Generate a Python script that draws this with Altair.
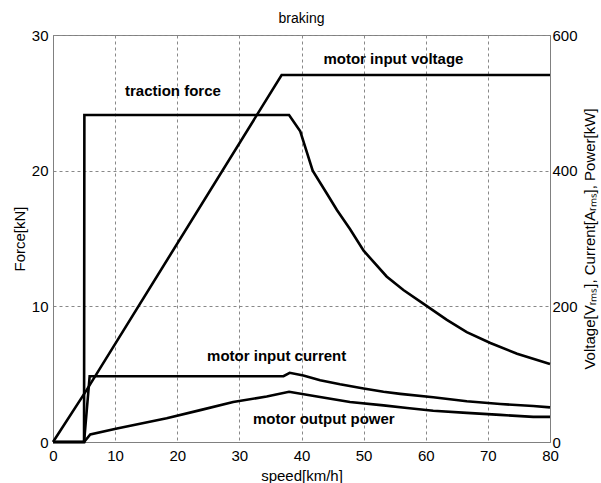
import altair as alt
import pandas as pd

# Braking characteristics of the traction drive versus speed
speed_force = [0, 5.0, 5.05, 38.0, 39.8, 41.8, 44.1, 45.7, 47.8, 50.0, 53.7, 56.4,
               59.6, 63.4, 66.6, 70.4, 74.7, 80.0]
force_kn = [0, 0, 24.1, 24.1, 22.9, 20.0, 18.3, 17.1, 15.7, 14.1, 12.2, 11.2,
            10.2, 9.0, 8.1, 7.3, 6.5, 5.75]

speed_voltage = [0, 5.3, 36.8, 80.0]
voltage_v = [0, 75, 541, 541]

speed_current = [0, 5.0, 5.9, 37.1, 38.1, 40.3, 43.0, 46.2, 50.0, 53.2, 55.9,
                 61.2, 66.6, 72.0, 77.3, 80.0]
current_a = [0, 0, 97, 97, 102, 98, 91, 85, 79, 74, 71, 66, 60, 56, 53, 51]

speed_power = [0, 5.0, 6.0, 10.3, 18.3, 23.7, 29.0, 34.4, 38.0, 42.5, 47.8, 53.2,
               57.0, 61.2, 66.6, 72.0, 77.3, 80.0]
power_kw = [0, 0, 11, 20, 35, 47, 59, 67, 74, 67, 59, 54, 50, 46, 43, 40, 37, 37]

# Curve annotations, placed in (speed, force) coordinates
label_text = ["traction force", "motor input voltage", "motor input current",
              "motor output power"]
label_speed = [19.3, 54.8, 36.0, 43.6]
label_force = [25.9, 28.2, 6.34, 1.7]

title_text = ["braking"]

FONT = "Liberation Sans"
GRID = "#888888"
W, H = 497, 407

force_df = pd.DataFrame({"speed": speed_force, "value": force_kn})
right_df = pd.concat([
    pd.DataFrame({"speed": speed_voltage, "value": voltage_v, "series": "voltage"}),
    pd.DataFrame({"speed": speed_current, "value": current_a, "series": "current"}),
    pd.DataFrame({"speed": speed_power, "value": power_kw, "series": "power"}),
], ignore_index=True)
label_df = pd.DataFrame({"speed": label_speed, "value": label_force, "text": label_text})

x_enc = alt.X(
    "speed:Q",
    scale=alt.Scale(domain=[0, 80], nice=False, zero=False),
    axis=alt.Axis(
        values=list(range(0, 81, 10)), title="speed[km/h]", grid=True,
        gridDash=[3, 3], gridColor=GRID, gridWidth=1, ticks=False,
        labelPadding=6, labelFlush=False, labelOverlap=False, titlePadding=5,
    ),
)
left_y = alt.Y(
    "value:Q",
    scale=alt.Scale(domain=[0, 30], nice=False, zero=False),
    axis=alt.Axis(
        values=[0, 10, 20, 30], title="Force[kN]", orient="left", grid=True,
        gridDash=[3, 3], gridColor=GRID, gridWidth=1, ticks=False,
        labelPadding=5, titlePadding=4,
    ),
)

force_line = alt.Chart(force_df).mark_line(color="black", strokeWidth=2.6).encode(
    x=x_enc, y=left_y
)

labels = alt.Chart(label_df).mark_text(
    font=FONT, fontSize=15, fontWeight="bold", color="black"
).encode(x=x_enc, y=left_y, text="text:N")

# Plot title, centred above the frame
heading = alt.Chart(pd.DataFrame({"text": title_text})).mark_text(
    font=FONT, fontSize=14, color="black", align="center", baseline="alphabetic"
).encode(x=alt.value(W / 2), y=alt.value(-12), text="text:N")

right_lines = alt.Chart(right_df).mark_line(color="black", strokeWidth=2.6).encode(
    x=x_enc,
    y=alt.Y(
        "value:Q", scale=alt.Scale(domain=[0, 600], nice=False, zero=False),
        axis=alt.Axis(
            values=[0, 200, 400, 600], orient="right", grid=False, ticks=False,
            title="Voltage[Vᵣₘₛ], Current[Aᵣₘₛ], Power[kW]", titleAngle=270,
            titleBaseline="top", labelPadding=2, titlePadding=5,
        ),
    ),
    detail="series:N",
)

chart = alt.layer(
    alt.layer(force_line, labels, heading), right_lines
).resolve_scale(y="independent").properties(
    width=W,
    height=H,
    background="white",
    autosize=alt.AutoSizeParams(type="none"),
    padding={"left": 53, "top": 35, "right": 51, "bottom": 41},
).configure_view(
    stroke="#808080", strokeWidth=1
).configure_axis(
    labelFont=FONT, labelFontSize=15, labelColor="black",
    titleFont=FONT, titleFontSize=15, titleFontWeight="normal", titleColor="black",
    domainColor="#808080",
)

chart.save("out.html", embed_options={"renderer": "svg", "actions": False})
